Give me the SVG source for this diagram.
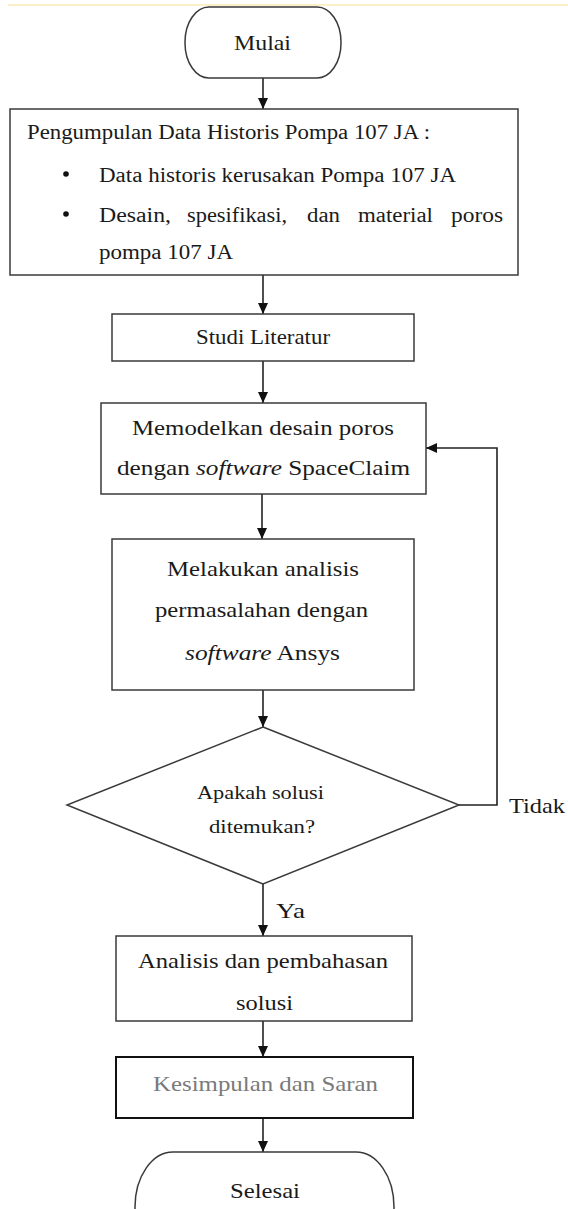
<svg xmlns="http://www.w3.org/2000/svg" width="568" height="1209" viewBox="0 0 568 1209">
<style>
.t{font-family:"Liberation Serif","Times New Roman",serif;fill:#1a1a1a;font-size:22px}
.s{font-size:20px}
.d{font-size:19px}
.i{font-style:italic}
.box{fill:#fff;stroke:#3a3a3a;stroke-width:1.5}
.ln{fill:none;stroke:#222;stroke-width:1.6}
</style>
<defs>
<marker id="ah" markerUnits="userSpaceOnUse" markerWidth="11" markerHeight="11" viewBox="0 0 11 10" refX="11" refY="5" orient="auto"><path d="M0,0L11,5L0,10z" fill="#111"/></marker>
</defs>
<rect width="568" height="1209" fill="#fff"/>
<line x1="8" y1="5" x2="568" y2="5" stroke="#fbf0c8" stroke-width="2"/>

<g id="connectors">
<line class="ln" x1="263" y1="78" x2="263" y2="109" marker-end="url(#ah)"/>
<line class="ln" x1="263" y1="275" x2="263" y2="314" marker-end="url(#ah)"/>
<line class="ln" x1="263" y1="361" x2="263" y2="403" marker-end="url(#ah)"/>
<line class="ln" x1="262" y1="494" x2="262" y2="539" marker-end="url(#ah)"/>
<line class="ln" x1="263" y1="690" x2="263" y2="727" marker-end="url(#ah)"/>
<line class="ln" x1="263" y1="884" x2="263" y2="936" marker-end="url(#ah)"/>
<line class="ln" x1="263" y1="1021" x2="263" y2="1057" marker-end="url(#ah)"/>
<line class="ln" x1="263" y1="1118" x2="263" y2="1152" marker-end="url(#ah)"/>
<polyline class="ln" points="459,805 497,805 497,448 426,448" marker-end="url(#ah)"/>
<text class="t" x="509" y="813" textLength="56" lengthAdjust="spacingAndGlyphs">Tidak</text>
<text class="t" x="276" y="918" textLength="29" lengthAdjust="spacingAndGlyphs">Ya</text>
</g>

<g id="mulai">
<rect class="box" x="185" y="7" width="156" height="71" rx="24" ry="35"/>
<text class="t" x="234" y="50" textLength="57" lengthAdjust="spacingAndGlyphs">Mulai</text>
</g>

<g id="pengumpulan">
<rect class="box" x="10" y="109" width="508" height="166"/>
<text class="t s" x="27" y="139" textLength="403" lengthAdjust="spacingAndGlyphs">Pengumpulan Data Historis Pompa 107 JA :</text>
<circle cx="66" cy="174" r="2.8" fill="#111"/>
<circle cx="66" cy="214" r="2.8" fill="#111"/>
<text class="t s" x="99" y="182" textLength="357" lengthAdjust="spacingAndGlyphs">Data historis kerusakan Pompa 107 JA</text>
<text class="t s" y="222"><tspan x="99" textLength="72" lengthAdjust="spacingAndGlyphs">Desain,</tspan><tspan x="187" textLength="100" lengthAdjust="spacingAndGlyphs">spesifikasi,</tspan><tspan x="307" textLength="33" lengthAdjust="spacingAndGlyphs">dan</tspan><tspan x="358" textLength="75" lengthAdjust="spacingAndGlyphs">material</tspan><tspan x="451" textLength="52" lengthAdjust="spacingAndGlyphs">poros</tspan></text>
<text class="t s" x="99" y="259" textLength="134" lengthAdjust="spacingAndGlyphs">pompa 107 JA</text>
</g>

<g id="studi">
<rect class="box" x="112" y="314" width="302" height="47"/>
<text class="t" x="196" y="344" textLength="134" lengthAdjust="spacingAndGlyphs">Studi Literatur</text>
</g>

<g id="memodelkan">
<rect class="box" x="101" y="403" width="325" height="91"/>
<text class="t" x="132" y="435" textLength="262" lengthAdjust="spacingAndGlyphs">Memodelkan desain poros</text>
<text class="t" x="117" y="475" textLength="293" lengthAdjust="spacingAndGlyphs">dengan <tspan class="i">software</tspan> SpaceClaim</text>
</g>

<g id="melakukan">
<rect class="box" x="112" y="539" width="302" height="151"/>
<text class="t" x="167" y="576" textLength="192" lengthAdjust="spacingAndGlyphs">Melakukan analisis</text>
<text class="t" x="155" y="617" textLength="213" lengthAdjust="spacingAndGlyphs">permasalahan dengan</text>
<text class="t" x="185" y="660" textLength="155" lengthAdjust="spacingAndGlyphs"><tspan class="i">software</tspan> Ansys</text>
</g>

<g id="keputusan">
<polygon class="box" points="263,727 459,805 263,884 67,805"/>
<text class="t d" x="197" y="799" textLength="127" lengthAdjust="spacingAndGlyphs">Apakah solusi</text>
<text class="t d" x="209" y="833" textLength="106" lengthAdjust="spacingAndGlyphs">ditemukan?</text>
</g>

<g id="analisis">
<rect class="box" x="116" y="936" width="296" height="85"/>
<text class="t" x="138" y="968" textLength="250" lengthAdjust="spacingAndGlyphs">Analisis dan pembahasan</text>
<text class="t" x="236" y="1010" textLength="57" lengthAdjust="spacingAndGlyphs">solusi</text>
</g>

<g id="kesimpulan">
<rect class="box" x="116" y="1057" width="297" height="61" style="stroke:#111;stroke-width:2"/>
<text class="t" x="153" y="1091" textLength="225" lengthAdjust="spacingAndGlyphs" style="fill:#7a7a7a">Kesimpulan dan Saran</text>
</g>

<g id="selesai">
<rect class="box" x="135" y="1152" width="259" height="110" rx="38" ry="55"/>
<text class="t" x="230" y="1198" textLength="70" lengthAdjust="spacingAndGlyphs">Selesai</text>
</g>
</svg>
